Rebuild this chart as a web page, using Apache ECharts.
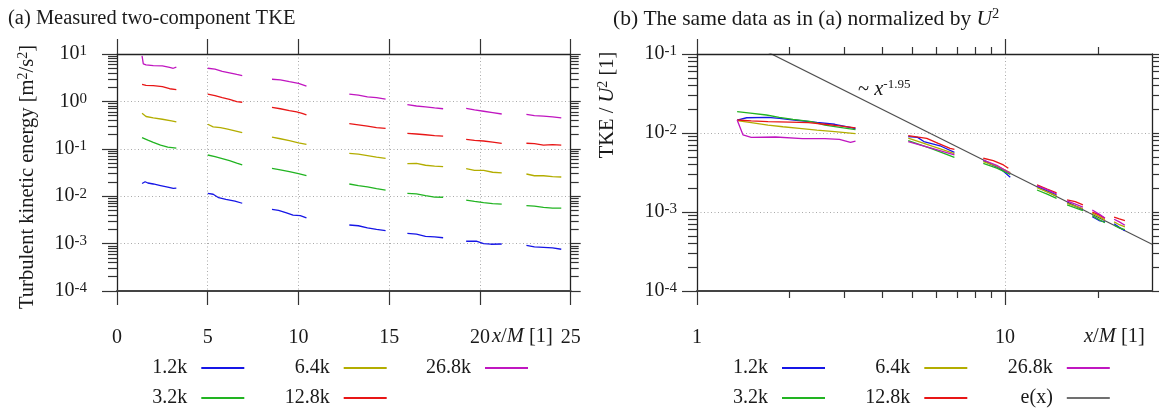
<!DOCTYPE html>
<html>
<head>
<meta charset="utf-8">
<script src="https://cdn.jsdelivr.net/npm/echarts@6/dist/echarts.min.js"></script>
<style>
  html, body { margin: 0; padding: 0; background: #fff; }
  #chart { width: 1159px; height: 409px; }
</style>
</head>
<body>
<div id="chart"></div>
<script>
// Series identities (grid mesh speed labels) and their line colours
const seriesNames = ['1.2k', '3.2k', '6.4k', '12.8k', '26.8k'];
const seriesColors = ['#1616e6', '#22b422', '#b3ad00', '#e81616', '#c016c0'];

// (a) Two-component TKE [m^2/s^2] vs x/M, one sub-array per measurement window
const tkeA_1_2k = [
  [[1.38,0.0185],[1.55,0.0202],[1.7,0.0190],[2.0,0.0181],[2.4,0.0168],[2.8,0.0156],[3.1,0.0146],[3.27,0.0148]],
  [[5.0,0.0115],[5.3,0.0110],[5.6,0.0093],[6.0,0.0086],[6.5,0.0079],[6.9,0.0071]],
  [[8.54,0.0053],[8.9,0.0050],[9.3,0.0045],[9.7,0.0040],[10.1,0.0039],[10.44,0.0035]],
  [[12.8,0.00247],[13.3,0.00238],[13.8,0.00215],[14.3,0.00200],[14.8,0.00188]],
  [[16.0,0.00165],[16.5,0.00158],[17.0,0.00142],[17.5,0.00138],[17.97,0.00133]],
  [[19.24,0.00112],[19.8,0.00113],[20.2,0.00100],[20.6,0.00097],[21.2,0.00098]],
  [[22.56,0.00092],[23.0,0.00085],[23.5,0.00083],[24.0,0.00081],[24.48,0.00076]]
];
const tkeA_3_2k = [
  [[1.38,0.172],[1.7,0.152],[2.0,0.136],[2.4,0.119],[2.8,0.108],[3.27,0.103]],
  [[5.0,0.074],[5.4,0.068],[5.8,0.062],[6.2,0.056],[6.6,0.050],[6.9,0.046]],
  [[8.54,0.0387],[9.0,0.036],[9.5,0.033],[10.0,0.030],[10.44,0.0271]],
  [[12.8,0.0181],[13.3,0.0168],[13.8,0.0158],[14.3,0.0145],[14.8,0.0135]],
  [[16.0,0.0115],[16.5,0.0112],[17.0,0.0103],[17.5,0.0096],[17.97,0.0095]],
  [[19.24,0.0083],[19.7,0.0078],[20.2,0.0073],[20.7,0.0070],[21.2,0.0068]],
  [[22.56,0.0063],[23.0,0.0062],[23.5,0.0058],[24.0,0.0056],[24.48,0.0056]]
];
const tkeA_6_4k = [
  [[1.38,0.56],[1.6,0.48],[2.0,0.45],[2.5,0.42],[3.0,0.39],[3.27,0.37]],
  [[5.0,0.33],[5.3,0.29],[5.7,0.28],[6.1,0.26],[6.5,0.24],[6.9,0.22]],
  [[8.54,0.177],[9.0,0.163],[9.5,0.148],[10.0,0.134],[10.44,0.124]],
  [[12.8,0.080],[13.3,0.077],[13.8,0.072],[14.3,0.067],[14.8,0.063]],
  [[16.0,0.0485],[16.5,0.049],[17.0,0.045],[17.5,0.043],[17.97,0.042]],
  [[19.24,0.038],[19.7,0.035],[20.2,0.035],[20.7,0.032],[21.2,0.031]],
  [[22.56,0.0294],[23.0,0.027],[23.5,0.027],[24.0,0.026],[24.48,0.0254]]
];
const tkeA_12_8k = [
  [[1.38,2.30],[1.6,2.18],[2.0,2.15],[2.5,2.05],[2.9,1.85],[3.27,1.78]],
  [[5.0,1.43],[5.4,1.32],[5.8,1.20],[6.2,1.10],[6.6,0.99],[6.9,0.96]],
  [[8.54,0.75],[9.0,0.70],[9.5,0.64],[9.9,0.60],[10.2,0.56],[10.44,0.52]],
  [[12.8,0.339],[13.3,0.32],[13.8,0.30],[14.3,0.28],[14.8,0.27]],
  [[16.0,0.212],[16.5,0.205],[17.0,0.198],[17.5,0.19],[17.97,0.186]],
  [[19.24,0.158],[19.7,0.150],[20.2,0.146],[20.7,0.138],[21.2,0.130]],
  [[22.56,0.131],[23.0,0.128],[23.5,0.120],[24.0,0.122],[24.48,0.119]]
];
const tkeA_26_8k = [
  [[1.38,9.1],[1.45,6.2],[1.6,5.9],[2.0,5.7],[2.5,5.6],[2.9,5.2],[3.1,5.0],[3.27,5.3]],
  [[5.0,5.0],[5.4,4.8],[5.8,4.3],[6.2,4.0],[6.6,3.7],[6.9,3.5]],
  [[8.54,2.93],[9.0,2.85],[9.5,2.6],[10.0,2.4],[10.44,2.11]],
  [[12.8,1.43],[13.3,1.35],[13.8,1.25],[14.3,1.2],[14.8,1.12]],
  [[16.0,0.853],[16.5,0.80],[17.0,0.77],[17.5,0.73],[17.97,0.70]],
  [[19.24,0.714],[19.7,0.66],[20.2,0.62],[20.7,0.58],[21.2,0.542]],
  [[22.56,0.535],[23.0,0.50],[23.5,0.49],[24.0,0.47],[24.48,0.447]]
];

// (b) TKE / U^2 [1] vs x/M
const tkeB_1_2k = [
  [[1.35,0.0146],[1.45,0.0156],[1.7,0.0158],[1.85,0.0153],[2.1,0.0145],[2.45,0.0136],[2.8,0.0129],[3.27,0.0114]],
  [[4.85,0.0090],[5.2,0.0088],[5.45,0.0078],[6.2,0.0068],[6.85,0.0057]],
  [[8.5,0.00447],[9.0,0.0040],[9.6,0.0036],[10.4,0.00275]],
  [[12.7,0.00209],[13.7,0.00185],[14.7,0.00164]],
  [[15.9,0.00131],[17.0,0.00118],[17.9,0.00108]],
  [[19.2,0.00087],[20.2,0.00078],[21.1,0.00075]],
  [[22.6,0.00071],[23.5,0.00064],[24.5,0.00058]]
];
const tkeB_3_2k = [
  [[1.35,0.0186],[1.49,0.0178],[1.68,0.0169],[1.85,0.0158],[2.05,0.0149],[2.35,0.0139],[2.6,0.0126],[2.91,0.0118],[3.27,0.0110]],
  [[4.85,0.0080],[5.8,0.0063],[6.85,0.0049]],
  [[8.5,0.00413],[9.4,0.0036],[10.4,0.0030]],
  [[12.7,0.0019],[13.7,0.00168],[14.7,0.00149]],
  [[15.9,0.00123],[17.0,0.00112],[17.9,0.00104]],
  [[19.2,0.0009],[20.2,0.0008],[21.1,0.00073]],
  [[22.6,0.00068],[23.5,0.00063],[24.5,0.0006]]
];
const tkeB_6_4k = [
  [[1.35,0.0143],[1.5,0.0135],[1.7,0.0126],[1.9,0.0120],[2.15,0.01145],[2.45,0.0109],[2.8,0.0104],[3.27,0.0098]],
  [[4.85,0.0086],[5.8,0.0068],[6.85,0.0055]],
  [[8.5,0.00433],[9.4,0.0038],[10.4,0.00315]],
  [[12.7,0.00203],[13.7,0.0018],[14.7,0.0016]],
  [[15.9,0.00129],[17.0,0.00118],[17.9,0.0011]],
  [[19.2,0.00097],[20.2,0.00088],[21.1,0.00079]],
  [[22.6,0.00075],[23.5,0.00069],[24.5,0.00065]]
];
const tkeB_12_8k = [
  [[1.35,0.0146],[1.5,0.0142],[1.7,0.0139],[2.0,0.0137],[2.3,0.0135],[2.6,0.0129],[2.9,0.0123],[3.27,0.0116]],
  [[4.85,0.00925],[5.57,0.00857],[6.07,0.0074],[6.63,0.0064],[6.85,0.0062]],
  [[8.5,0.00479],[9.16,0.00447],[9.88,0.00394],[10.25,0.00357]],
  [[12.7,0.0022],[13.7,0.00195],[14.7,0.00175]],
  [[15.9,0.00142],[16.9,0.00135],[17.9,0.00123]],
  [[19.2,0.0010],[20.2,0.00092],[21.1,0.00083]],
  [[22.6,0.00086],[23.5,0.00082],[24.5,0.00078]]
];
const tkeB_26_8k = [
  [[1.35,0.0146],[1.41,0.0095],[1.5,0.0088],[1.8,0.0089],[2.2,0.0085],[2.6,0.0085],[2.9,0.0083],[3.15,0.0076],[3.27,0.0079]],
  [[4.85,0.00776],[5.8,0.0064],[6.85,0.00527]],
  [[8.5,0.00455],[9.4,0.0039],[10.4,0.00309]],
  [[12.7,0.00215],[13.7,0.00192],[14.7,0.00169]],
  [[15.9,0.00138],[17.0,0.00125],[17.9,0.00115]],
  [[19.2,0.00106],[20.2,0.00094],[21.1,0.00084]],
  [[22.6,0.00081],[23.5,0.00075],[24.5,0.00068]]
];

// Power-law reference e(x) = c * x^-1.95
const fitCoef = 0.296;
const fitExp = -1.95;
const fitRange = [1, 30];

// Axis ticks
const xTicksA = [0, 5, 10, 15, 20, 25];
const yDecadesA = [1e-4, 1e-3, 1e-2, 1e-1, 1, 10];
const xTicksB = [1, 10];
const yDecadesB = [1e-4, 1e-3, 1e-2, 1e-1];

const seriesA = [tkeA_1_2k, tkeA_3_2k, tkeA_6_4k, tkeA_12_8k, tkeA_26_8k];
const seriesB = [tkeB_1_2k, tkeB_3_2k, tkeB_6_4k, tkeB_12_8k, tkeB_26_8k];

const FONT = 'Liberation Serif';
const TXT = '#1a1a1a';
const AXIS_COL = '#222';

function joinSegments(segs) {
  const out = [];
  segs.forEach((s, i) => {
    if (i > 0) out.push(['-', '-']);
    s.forEach(p => out.push(p));
  });
  return out;
}
function minorLogTicks(e0, e1) {
  const t = [];
  for (let e = e0; e < e1; e++)
    for (let k = 2; k <= 9; k++) t.push(+(k * Math.pow(10, e)).toPrecision(3));
  return t;
}
function decadeLabel(v) {
  const e = Math.round(Math.log10(v));
  return '{b|10}{s|' + e + '}';
}
const decadeRich = {
  b: { fontSize: 20, fontFamily: FONT, color: TXT },
  s: { fontSize: 15, fontFamily: FONT, color: TXT, padding: [0, 0, 5, 0] }
};
const dotted = { show: true, lineStyle: { color: '#aaa', type: [1, 2.5], width: 1 } };

// Generic axis builder; ticks always point outward
function axis(o) {
  return {
    type: o.type, gridIndex: o.grid, position: o.pos,
    min: o.min, max: o.max, interval: o.interval, logBase: 10,
    axisLine: { show: !!o.line, onZero: false, lineStyle: { color: o.lineColor || AXIS_COL, width: o.lineWidth || 1.3 } },
    axisTick: Object.assign({ show: true, inside: false, length: o.tick, lineStyle: { color: '#333', width: 1.2 } },
      o.tickValues ? { customValues: o.tickValues } : {}),
    axisLabel: o.label ? Object.assign({
      show: true, margin: o.margin, fontSize: 20, fontFamily: FONT, color: TXT,
      formatter: o.formatter, rich: o.rich
    }, o.labelValues ? { customValues: o.labelValues } : {}) : { show: false },
    splitLine: o.split ? dotted : { show: false },
    minorTick: { show: false },
    z: o.z || 2
  };
}

const minorYA = minorLogTicks(-4, 1);
const minorYB = minorLogTicks(-4, -1);
const minorXB = [2, 3, 4, 5, 6, 7, 8, 9, 20];

const xAxes = [
  // (a)
  axis({ type: 'value', grid: 0, pos: 'bottom', min: 0, max: 25, interval: 5, line: true, lineColor: '#444', lineWidth: 2,
         tick: 14, label: true, labelValues: xTicksA, margin: 37, split: true }),
  axis({ type: 'value', grid: 0, pos: 'top', min: 0, max: 25, interval: 5, line: true, tick: 15 }),
  // (b)
  axis({ type: 'log', grid: 1, pos: 'bottom', min: 1, max: 30, line: true, lineColor: '#444', lineWidth: 2,
         tick: 14, tickValues: xTicksB, label: true, labelValues: xTicksB, margin: 37, split: true }),
  axis({ type: 'log', grid: 1, pos: 'top', min: 1, max: 30, line: true, tick: 15, tickValues: xTicksB }),
  axis({ type: 'log', grid: 1, pos: 'bottom', min: 1, max: 30, tick: 7, tickValues: minorXB }),
  axis({ type: 'log', grid: 1, pos: 'top', min: 1, max: 30, tick: 7, tickValues: minorXB })
];
const yAxes = [
  // (a)
  axis({ type: 'log', grid: 0, pos: 'left', min: 1e-4, max: 10, line: true, tick: 15, tickValues: yDecadesA,
         label: true, labelValues: yDecadesA, margin: 30, formatter: decadeLabel, rich: decadeRich, split: true }),
  axis({ type: 'log', grid: 0, pos: 'left', min: 1e-4, max: 10, tick: 9, tickValues: minorYA }),
  axis({ type: 'log', grid: 0, pos: 'right', min: 1e-4, max: 10, line: true, tick: 10, tickValues: yDecadesA }),
  axis({ type: 'log', grid: 0, pos: 'right', min: 1e-4, max: 10, tick: 8, tickValues: minorYA }),
  // (b)
  axis({ type: 'log', grid: 1, pos: 'left', min: 1e-4, max: 0.1, line: true, tick: 15, tickValues: yDecadesB,
         label: true, labelValues: yDecadesB, margin: 20, formatter: decadeLabel, rich: decadeRich, split: true }),
  axis({ type: 'log', grid: 1, pos: 'left', min: 1e-4, max: 0.1, tick: 9, tickValues: minorYB }),
  axis({ type: 'log', grid: 1, pos: 'right', min: 1e-4, max: 0.1, line: true, tick: 10, tickValues: yDecadesB }),
  axis({ type: 'log', grid: 1, pos: 'right', min: 1e-4, max: 0.1, tick: 8, tickValues: minorYB })
];

const series = [];
seriesNames.forEach((name, i) => {
  series.push({
    name, type: 'line', xAxisIndex: 0, yAxisIndex: 0, data: joinSegments(seriesA[i]),
    showSymbol: false, symbol: 'none', connectNulls: false, clip: true,
    lineStyle: { color: seriesColors[i], width: 1.3 }, itemStyle: { color: seriesColors[i] }
  });
});
seriesNames.forEach((name, i) => {
  series.push({
    name, type: 'line', xAxisIndex: 2, yAxisIndex: 4, data: joinSegments(seriesB[i]),
    showSymbol: false, symbol: 'none', connectNulls: false, clip: true,
    lineStyle: { color: seriesColors[i], width: 1.3 }, itemStyle: { color: seriesColors[i] }
  });
});
series.push({
  name: 'e(x)', type: 'line', xAxisIndex: 2, yAxisIndex: 4,
  data: fitRange.map(x => [x, fitCoef * Math.pow(x, fitExp)]),
  showSymbol: false, symbol: 'none', clip: true, z: 1,
  lineStyle: { color: '#505050', width: 1.2 }, itemStyle: { color: '#707070' }
});

function legendCol(names, rightPx) {
  return {
    data: names, orient: 'vertical', align: 'right', right: rightPx, top: 358,
    padding: 0, itemGap: 10, itemWidth: 43, itemHeight: 2, icon: 'rect',
    selectedMode: false,
    textStyle: { fontSize: 20, fontFamily: FONT, color: TXT, padding: [0, 9, 0, 0] }
  };
}

const richText = {
  i: { fontSize: 20.5, fontFamily: FONT, fontStyle: 'italic', color: TXT },
  s: { fontSize: 14, fontFamily: FONT, color: TXT, padding: [0, 0, 9, 0] },
  si: { fontSize: 13, fontFamily: FONT, color: TXT, padding: [0, 0, 11, 0] },
  ti: { fontSize: 21.5, fontFamily: FONT, fontStyle: 'italic', color: TXT },
  ts: { fontSize: 14.5, fontFamily: FONT, color: TXT, padding: [0, 0, 9, 0] }
};
function label(x, y, text, extra, size) {
  return Object.assign({
    type: 'text', x, y,
    style: { text, fontSize: size || 20.5, fontFamily: FONT, fill: TXT, align: 'left', verticalAlign: 'middle', rich: richText }
  }, extra || {});
}
function vlabel(x, y, text) {
  return {
    type: 'text', x, y, rotation: Math.PI / 2,
    style: { text, fontSize: 20.5, fontFamily: FONT, fill: TXT, align: 'center', verticalAlign: 'middle', rich: richText }
  };
}

const chart = echarts.init(document.getElementById('chart'), null, { renderer: 'canvas' });
chart.setOption({
  animation: false,
  backgroundColor: '#fff',
  grid: [
    { left: 117, top: 54, width: 453.7, height: 237 },
    { left: 697, top: 54, width: 455, height: 237 }
  ],
  xAxis: xAxes,
  yAxis: yAxes,
  legend: [
    legendCol(['1.2k', '3.2k'], 1159 - 244.3),
    legendCol(['6.4k', '12.8k'], 1159 - 386.7),
    legendCol(['26.8k'], 1159 - 528),
    legendCol(['1.2k', '3.2k'], 1159 - 825),
    legendCol(['6.4k', '12.8k'], 1159 - 967.3),
    legendCol(['26.8k', 'e(x)'], 1159 - 1109.8)
  ],
  series,
  graphic: [
    label(8, 19, '(a) Measured two-component TKE'),
    label(613, 19, '(b) The same data as in (a) normalized by {ti|U}{ts|2}', null, 21.5),
    vlabel(28, 177, 'Turbulent kinetic energy [m{s|2}/s{s|2}]'),
    vlabel(608, 105, 'TKE / {i|U}{s|2} [1]'),
    label(492, 337, '{i|x}/{i|M} [1]'),
    label(1084, 337, '{i|x}/{i|M} [1]'),
    label(858, 90, '~ {i|x}{si|-1.95}')
  ]
});
</script>
</body>
</html>
